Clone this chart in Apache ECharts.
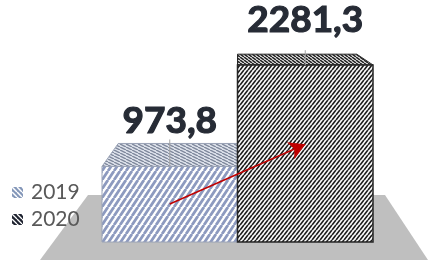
<!DOCTYPE html>
<html>
<head>
<meta charset="utf-8">
<script src="https://cdn.jsdelivr.net/npm/echarts@6/dist/echarts.min.js"></script>
<style>
  html, body { margin: 0; padding: 0; background: #fff; }
  #chart { width: 429px; height: 262px; }
</style>
</head>
<body>
<div id="chart"></div>
<script>
// data
const years = ['2019', '2020'];
const values = [973.8, 2281.3];
const arrowFrom = [0, 490];
const arrowTo = [1, 1260];

// perspective: top faces shrink toward a vanishing point above the chart
const VP_Y = -25;
const DEPTH = 0.88;

// diagonal hatch tile; dir 1 = lines rising to the right, -1 = falling
function hatch(w, h, fg, bg, lw, dir) {
  const c = document.createElement('canvas');
  c.width = w; c.height = h;
  const ctx = c.getContext('2d');
  ctx.fillStyle = bg;
  ctx.fillRect(0, 0, w, h);
  ctx.strokeStyle = fg;
  ctx.lineWidth = lw;
  ctx.beginPath();
  for (let o = -w; o <= w; o += w) {
    if (dir > 0) {
      ctx.moveTo(o, h);
      ctx.lineTo(o + w, 0);
    } else {
      ctx.moveTo(o, 0);
      ctx.lineTo(o + w, h);
    }
  }
  ctx.stroke();
  return { image: c, repeat: 'repeat' };
}

const styles = [
  {
    front: hatch(6, 9, '#8d9abf', '#ffffff', 2.8, 1),
    top: hatch(6, 3, '#7f889c', '#dfe3ec', 1.4, -1),
    icon: hatch(5, 5, '#ffffff', '#8497b9', 1.5, -1),
    edge: '#9aa3b6'
  },
  {
    front: hatch(4, 5, '#1e1e1e', '#ffffff', 1.7, 1),
    top: hatch(4, 3, '#222222', '#f4f4f4', 1.5, -1),
    icon: hatch(5, 5, '#ffffff', '#1f2330', 1.3, -1),
    edge: '#262626'
  }
];

function fmt(v) {
  return String(v).replace('.', ',');
}

function renderBox(params, api) {
  const idx = api.value(0);
  const v = api.value(1);
  const s = styles[idx];
  const top = api.coord([idx, v]);
  const base = api.coord([idx, 0]);
  const w = api.size([1, 0])[0];
  const vpx = (api.coord([0, 0])[0] + api.coord([1, 0])[0]) / 2;
  const back = p => [vpx + DEPTH * (p[0] - vpx), VP_Y + DEPTH * (p[1] - VP_Y)];
  const l = top[0] - w / 2, r = top[0] + w / 2;
  const ty = top[1], by = base[1];
  const fl = [l, ty], fr = [r, ty];
  const bl = back(fl), br = back(fr);
  return {
    type: 'group',
    children: [
      {
        type: 'polygon',
        shape: { points: [fl, fr, br, bl] },
        style: { fill: s.top, stroke: s.edge, lineWidth: 1 }
      },
      {
        type: 'rect',
        shape: { x: l, y: ty, width: w, height: by - ty },
        style: { fill: s.front, stroke: s.edge, lineWidth: idx === 1 ? 1.5 : 1 }
      },
      {
        type: 'line',
        shape: { x1: top[0], y1: ty, x2: top[0], y2: bl[1] - 4 },
        style: { stroke: '#a6a6a6', lineWidth: 1 }
      },
      {
        type: 'text',
        style: {
          text: fmt(v),
          x: top[0],
          y: ty - 45,
          align: 'center',
          verticalAlign: 'middle',
          font: 'bold 37px Lato',
          fill: '#262b35',
          stroke: '#262b35',
          lineWidth: 1.2
        }
      }
    ]
  };
}

const chart = echarts.init(document.getElementById('chart'));

const series = years.map((y, i) => ({
  name: y,
  type: 'custom',
  renderItem: renderBox,
  encode: { x: 0, y: 1 },
  itemStyle: { color: styles[i].front },
  data: [[i, values[i]]],
  z: 2 + i
}));

series[1].markLine = {
  silent: true,
  symbol: ['none', 'arrow'],
  symbolSize: [14, 16],
  label: { show: false },
  lineStyle: { color: '#c00000', width: 1.5, type: 'solid' },
  data: [[{ coord: arrowFrom }, { coord: arrowTo }]]
};

chart.setOption({
  animation: false,
  grid: { left: 102, right: 56, top: 9.2, bottom: 20 },
  xAxis: { type: 'category', data: years, show: false },
  yAxis: { type: 'value', min: 0, max: 3000, show: false },
  legend: {
    orient: 'vertical',
    left: 7,
    top: 177,
    icon: 'rect',
    itemWidth: 11,
    itemHeight: 11,
    itemGap: 6,
    data: years.map((y, i) => ({
      name: y,
      icon: 'rect',
      itemStyle: { color: styles[i].icon, borderWidth: 0 }
    })),
    textStyle: {
      fontFamily: 'Lato',
      fontSize: 21,
      lineHeight: 21,
      color: '#595959',
      padding: [0, 0, 0, 3]
    }
  },
  graphic: [
    {
      type: 'polygon',
      z: 0,
      shape: { points: [[88, 195], [385, 195], [428, 260], [40, 260]] },
      style: { fill: '#bfbfbf' }
    }
  ],
  series: series
});

window.addEventListener('resize', () => chart.resize());
</script>
</body>
</html>
